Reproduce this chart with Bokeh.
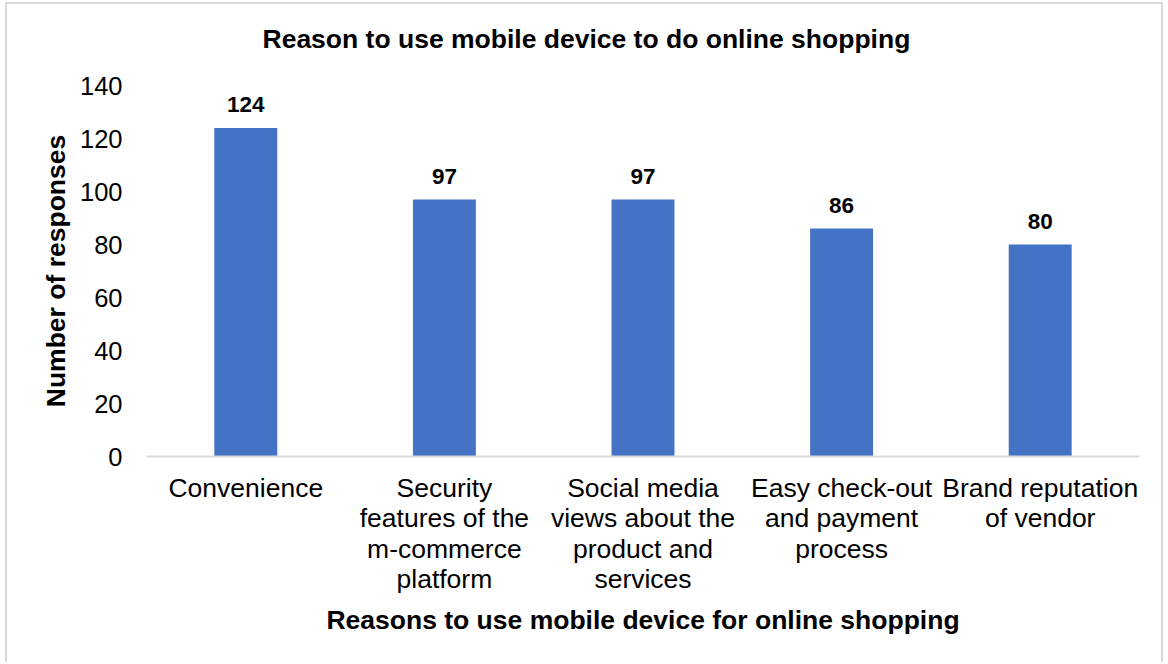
from bokeh.plotting import figure
from bokeh.models import ColumnDataSource, Range1d, FixedTicker, Title
from bokeh.core.properties import value
from bokeh.embed import file_html
from bokeh.resources import INLINE

categories = [
    "Convenience",
    "Security\nfeatures of the\nm-commerce\nplatform",
    "Social media\nviews about the\nproduct and\nservices",
    "Easy check-out\nand payment\nprocess",
    "Brand reputation\nof vendor",
]
responses = [124, 97, 97, 86, 80]
y_ticks = [0, 20, 40, 60, 80, 100, 120, 140]
title_text = "Reason to use mobile device to do online shopping"
x_title = "Reasons to use mobile device for online shopping"
y_title = "Number of responses"

FONT = "Liberation Sans"

source = ColumnDataSource(dict(cat=categories, val=responses, lab=[str(v) for v in responses]))

p = figure(
    x_range=categories,
    y_range=Range1d(0, 140),
    width=1158,
    height=660,
    output_backend="svg",
    toolbar_location=None,
    min_border_left=139,
    min_border_right=26,
    min_border_top=81,
    min_border_bottom=208,
    title=None,
)
p.styles = {
    "border": "2px solid #D9D9D9",
    "border-bottom": "none",
    "margin-left": "5px",
    "margin-top": "2px",
}

p.vbar(x="cat", top="val", width=0.317, source=source, fill_color="#4472C4", line_color=None)
p.text(x="cat", y="val", text="lab", source=source, text_align="center",
       text_baseline="alphabetic", y_offset=-23, text_font=value(FONT),
       text_font_size="22.5px", text_font_style="bold", text_color="black")

# spacer between the frame and the title
spacer = Title(text=" ", text_font_size="1px", standoff=29)
p.add_layout(spacer, "above")
title = Title(text=title_text, align="left", offset=116, standoff=0,
              text_font=FONT, text_font_size="26.5px", text_font_style="bold",
              text_color="black")
p.add_layout(title, "above")

p.outline_line_color = None
p.xgrid.grid_line_color = None
p.ygrid.grid_line_color = None

p.yaxis.ticker = FixedTicker(ticks=y_ticks)
p.yaxis.axis_line_color = None
p.yaxis.major_tick_line_color = None
p.yaxis.minor_tick_line_color = None
p.yaxis.major_tick_out = 0
p.yaxis.major_tick_in = 0
p.yaxis.major_label_standoff = 24
p.yaxis.major_label_text_font = FONT
p.yaxis.major_label_text_font_size = "25.5px"
p.yaxis.major_label_text_color = "black"
p.yaxis.axis_label = y_title
p.yaxis.axis_label_text_font = FONT
p.yaxis.axis_label_text_font_size = "26.5px"
p.yaxis.axis_label_text_font_style = "bold"
p.yaxis.axis_label_text_color = "black"
p.yaxis.axis_label_standoff = 6

p.xaxis.axis_line_color = "#D9D9D9"
p.xaxis.axis_line_width = 2
p.xaxis.major_tick_line_color = None
p.xaxis.minor_tick_line_color = None
p.xaxis.major_tick_out = 0
p.xaxis.major_tick_in = 0
p.xaxis.major_label_standoff = 16
p.xaxis.major_label_text_font = FONT
p.xaxis.major_label_text_font_size = "26.5px"
p.xaxis.major_label_text_line_height = 1.02
p.xaxis.major_label_text_color = "black"
p.xaxis.major_label_orientation = "horizontal"
p.xaxis.axis_label = x_title
p.xaxis.axis_label_text_font = FONT
p.xaxis.axis_label_text_font_size = "26.5px"
p.xaxis.axis_label_text_font_style = "bold"
p.xaxis.axis_label_text_color = "black"
p.xaxis.axis_label_standoff = 8

open("out.html", "w").write(file_html(p, INLINE))
